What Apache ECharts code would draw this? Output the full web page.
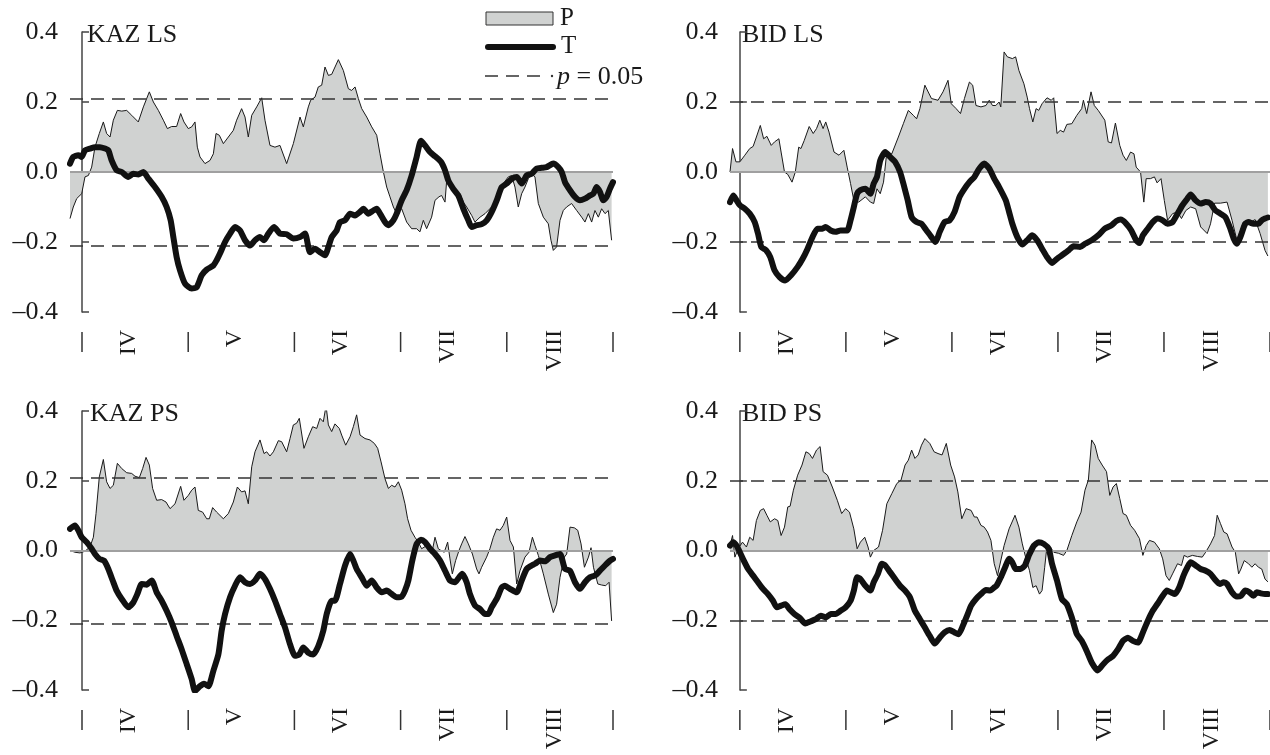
<!DOCTYPE html>
<html>
<head>
<meta charset="utf-8">
<script src="https://cdn.jsdelivr.net/npm/echarts@6/dist/echarts.min.js"></script>
<style>
html,body{margin:0;padding:0;background:#fff;}
#chart{width:1270px;height:755px;}
</style>
</head>
<body>
<div id="chart"></div>
<script>
// x in month units: 0 = 1 April, 1 = 1 May, ... 5 = 1 September
const monthNames = ['IV', 'V', 'VI', 'VII', 'VIII'];
const monthBounds = [0, 1, 2, 3, 4, 5];
const monthLabelPos = [0.44, 1.44, 2.44, 3.44, 4.45];
const panelTitles = ['KAZ LS', 'BID LS', 'KAZ PS', 'BID PS'];
const sigLevels = [0.215, 0.2, 0.215, 0.2];

const kazLS_P = [[-0.113,-0.133],[-0.082,-0.100],[-0.050,-0.076],[-0.003,-0.062],[0.028,-0.014],[0.060,-0.010],[0.091,0.014],[0.122,0.071],[0.163,0.110],[0.201,0.143],[0.232,0.110],[0.264,0.100],[0.295,0.148],[0.333,0.176],[0.374,0.174],[0.421,0.176],[0.468,0.162],[0.530,0.143],[0.578,0.186],[0.634,0.229],[0.672,0.200],[0.719,0.176],[0.766,0.148],[0.804,0.124],[0.844,0.130],[0.891,0.130],[0.929,0.167],[0.960,0.143],[1.001,0.124],[1.033,0.129],[1.064,0.143],[1.086,0.071],[1.111,0.043],[1.158,0.024],[1.205,0.033],[1.237,0.052],[1.262,0.110],[1.293,0.105],[1.331,0.081],[1.378,0.100],[1.425,0.119],[1.456,0.148],[1.503,0.181],[1.535,0.157],[1.566,0.100],[1.598,0.162],[1.645,0.186],[1.692,0.212],[1.723,0.148],[1.770,0.076],[1.817,0.071],[1.864,0.076],[1.927,0.024],[1.990,0.081],[2.053,0.157],[2.084,0.129],[2.131,0.186],[2.153,0.205],[2.194,0.214],[2.225,0.243],[2.257,0.248],[2.288,0.300],[2.320,0.276],[2.351,0.279],[2.414,0.321],[2.461,0.290],[2.508,0.238],[2.539,0.233],[2.571,0.243],[2.602,0.210],[2.634,0.181],[2.681,0.157],[2.728,0.129],[2.775,0.105],[2.806,0.052],[2.838,0.000],[2.869,-0.043],[2.900,-0.071],[2.932,-0.100],[2.963,-0.119],[3.010,-0.105],[3.057,-0.143],[3.104,-0.162],[3.151,-0.162],[3.182,-0.171],[3.214,-0.138],[3.245,-0.162],[3.292,-0.129],[3.324,-0.081],[3.361,-0.071],[3.386,-0.067],[3.418,-0.086],[3.434,-0.024],[3.481,-0.043],[3.528,-0.071],[3.559,-0.062],[3.591,-0.086],[3.622,-0.100],[3.669,-0.124],[3.700,-0.143],[3.748,-0.129],[3.795,-0.119],[3.857,-0.100],[3.920,-0.071],[3.967,-0.033],[4.014,-0.014],[4.045,-0.010],[4.077,-0.043],[4.108,-0.100],[4.140,-0.062],[4.171,-0.043],[4.203,-0.019],[4.234,-0.005],[4.265,-0.014],[4.297,-0.090],[4.344,-0.129],[4.391,-0.148],[4.416,-0.195],[4.438,-0.224],[4.469,-0.214],[4.501,-0.138],[4.532,-0.110],[4.563,-0.100],[4.610,-0.090],[4.658,-0.110],[4.705,-0.129],[4.736,-0.143],[4.768,-0.119],[4.799,-0.143],[4.830,-0.110],[4.862,-0.129],[4.893,-0.105],[4.925,-0.119],[4.956,-0.110],[4.987,-0.195]];

const kazLS_T = [[-0.113,0.024],[-0.082,0.043],[-0.035,0.048],[-0.003,0.043],[0.028,0.062],[0.075,0.067],[0.122,0.071],[0.169,0.071],[0.217,0.067],[0.248,0.062],[0.279,0.033],[0.326,0.005],[0.374,0.000],[0.436,-0.014],[0.483,-0.005],[0.530,-0.007],[0.578,0.000],[0.625,-0.019],[0.687,-0.043],[0.750,-0.071],[0.797,-0.100],[0.835,-0.138],[0.860,-0.186],[0.891,-0.243],[0.923,-0.281],[0.970,-0.319],[1.033,-0.333],[1.080,-0.329],[1.127,-0.295],[1.174,-0.279],[1.237,-0.267],[1.268,-0.252],[1.299,-0.233],[1.347,-0.200],[1.394,-0.176],[1.441,-0.157],[1.488,-0.167],[1.535,-0.195],[1.582,-0.210],[1.629,-0.195],[1.676,-0.186],[1.714,-0.195],[1.755,-0.176],[1.808,-0.157],[1.864,-0.176],[1.927,-0.178],[1.990,-0.190],[2.053,-0.186],[2.100,-0.176],[2.147,-0.229],[2.194,-0.219],[2.241,-0.229],[2.288,-0.238],[2.320,-0.214],[2.351,-0.186],[2.398,-0.167],[2.429,-0.143],[2.477,-0.138],[2.524,-0.119],[2.571,-0.124],[2.618,-0.114],[2.649,-0.105],[2.696,-0.119],[2.743,-0.110],[2.775,-0.105],[2.806,-0.119],[2.853,-0.143],[2.885,-0.152],[2.932,-0.138],[2.963,-0.119],[3.010,-0.081],[3.057,-0.052],[3.104,-0.010],[3.151,0.043],[3.192,0.089],[3.230,0.076],[3.277,0.057],[3.324,0.045],[3.380,0.029],[3.418,0.005],[3.449,-0.024],[3.496,-0.048],[3.543,-0.067],[3.591,-0.105],[3.638,-0.138],[3.669,-0.157],[3.716,-0.152],[3.764,-0.149],[3.811,-0.138],[3.858,-0.114],[3.905,-0.081],[3.952,-0.043],[4.000,-0.033],[4.047,-0.019],[4.094,-0.014],[4.140,-0.033],[4.187,-0.010],[4.234,-0.005],[4.281,0.010],[4.328,0.012],[4.375,0.014],[4.438,0.024],[4.485,0.014],[4.517,0.000],[4.548,-0.029],[4.595,-0.052],[4.642,-0.071],[4.689,-0.081],[4.736,-0.076],[4.783,-0.067],[4.815,-0.062],[4.846,-0.043],[4.877,-0.057],[4.909,-0.081],[4.940,-0.071],[4.971,-0.048],[5.000,-0.029]];

const bidLS_P = [[-0.093,0.000],[-0.069,0.067],[-0.037,0.029],[0.000,0.029],[0.047,0.048],[0.093,0.067],[0.125,0.073],[0.156,0.100],[0.193,0.133],[0.224,0.095],[0.255,0.102],[0.296,0.076],[0.327,0.086],[0.368,0.095],[0.389,0.057],[0.421,0.000],[0.452,-0.007],[0.492,-0.029],[0.523,0.000],[0.555,0.071],[0.576,0.067],[0.607,0.090],[0.654,0.130],[0.692,0.110],[0.723,0.124],[0.754,0.148],[0.785,0.124],[0.810,0.143],[0.841,0.114],[0.888,0.057],[0.935,0.048],[0.981,0.062],[1.012,0.014],[1.044,-0.033],[1.075,-0.081],[1.121,-0.086],[1.184,-0.071],[1.231,-0.086],[1.262,-0.090],[1.293,-0.048],[1.324,-0.062],[1.355,-0.029],[1.386,0.057],[1.433,0.052],[1.495,0.100],[1.542,0.138],[1.589,0.176],[1.636,0.162],[1.667,0.152],[1.698,0.181],[1.745,0.248],[1.807,0.210],[1.869,0.205],[1.916,0.229],[1.963,0.262],[1.994,0.195],[2.040,0.181],[2.081,0.167],[2.118,0.210],[2.165,0.257],[2.196,0.248],[2.227,0.190],[2.274,0.186],[2.321,0.190],[2.352,0.205],[2.383,0.190],[2.414,0.190],[2.445,0.200],[2.461,0.186],[2.492,0.343],[2.523,0.329],[2.570,0.324],[2.601,0.329],[2.632,0.290],[2.679,0.252],[2.710,0.214],[2.732,0.181],[2.763,0.143],[2.794,0.181],[2.819,0.176],[2.850,0.195],[2.897,0.212],[2.937,0.205],[2.960,0.212],[2.991,0.110],[3.022,0.119],[3.053,0.114],[3.084,0.136],[3.131,0.138],[3.178,0.162],[3.224,0.181],[3.240,0.205],[3.271,0.167],[3.312,0.229],[3.343,0.190],[3.380,0.176],[3.442,0.148],[3.474,0.086],[3.505,0.083],[3.542,0.140],[3.583,0.076],[3.614,0.048],[3.645,0.033],[3.685,0.057],[3.717,0.052],[3.738,0.014],[3.779,0.000],[3.810,-0.086],[3.832,-0.019],[3.872,-0.019],[3.910,-0.014],[3.935,-0.031],[3.972,-0.019],[4.003,-0.081],[4.034,-0.138],[4.081,-0.119],[4.128,-0.114],[4.165,-0.133],[4.206,-0.110],[4.252,-0.100],[4.299,-0.105],[4.346,-0.157],[4.408,-0.176],[4.439,-0.148],[4.477,-0.089],[4.533,-0.089],[4.595,-0.086],[4.642,-0.138],[4.688,-0.195],[4.751,-0.143],[4.813,-0.143],[4.860,-0.136],[4.907,-0.176],[4.953,-0.224],[4.980,-0.240]];

const bidLS_T = [[-0.093,-0.086],[-0.062,-0.067],[-0.031,-0.081],[0.000,-0.095],[0.047,-0.105],[0.093,-0.119],[0.140,-0.143],[0.171,-0.176],[0.202,-0.214],[0.249,-0.224],[0.287,-0.243],[0.327,-0.281],[0.374,-0.300],[0.427,-0.310],[0.483,-0.295],[0.545,-0.271],[0.592,-0.248],[0.639,-0.219],[0.685,-0.186],[0.732,-0.162],[0.779,-0.162],[0.810,-0.157],[0.857,-0.167],[0.903,-0.171],[0.950,-0.167],[1.012,-0.167],[1.044,-0.138],[1.075,-0.100],[1.106,-0.062],[1.137,-0.052],[1.184,-0.048],[1.231,-0.062],[1.262,-0.033],[1.293,-0.014],[1.324,0.033],[1.371,0.057],[1.417,0.043],[1.464,0.029],[1.511,0.000],[1.542,-0.033],[1.583,-0.081],[1.620,-0.129],[1.667,-0.143],[1.713,-0.148],[1.760,-0.167],[1.807,-0.186],[1.844,-0.200],[1.885,-0.171],[1.931,-0.143],[1.978,-0.138],[2.025,-0.114],[2.072,-0.071],[2.118,-0.048],[2.165,-0.029],[2.212,-0.014],[2.259,0.010],[2.305,0.024],[2.352,0.010],[2.399,-0.019],[2.445,-0.043],[2.508,-0.081],[2.539,-0.114],[2.570,-0.148],[2.617,-0.186],[2.664,-0.207],[2.710,-0.195],[2.757,-0.181],[2.804,-0.195],[2.850,-0.219],[2.897,-0.243],[2.944,-0.260],[2.991,-0.248],[3.037,-0.238],[3.100,-0.224],[3.146,-0.212],[3.209,-0.214],[3.255,-0.205],[3.318,-0.195],[3.380,-0.181],[3.442,-0.162],[3.505,-0.152],[3.551,-0.140],[3.592,-0.136],[3.645,-0.148],[3.692,-0.167],[3.738,-0.195],[3.769,-0.203],[3.801,-0.181],[3.847,-0.162],[3.894,-0.143],[3.941,-0.133],[3.988,-0.138],[4.034,-0.148],[4.081,-0.143],[4.128,-0.119],[4.174,-0.095],[4.221,-0.076],[4.252,-0.064],[4.299,-0.081],[4.346,-0.090],[4.393,-0.086],[4.439,-0.090],[4.486,-0.110],[4.533,-0.119],[4.579,-0.129],[4.626,-0.162],[4.657,-0.190],[4.688,-0.205],[4.720,-0.186],[4.766,-0.148],[4.798,-0.143],[4.844,-0.148],[4.891,-0.148],[4.922,-0.138],[4.953,-0.133],[4.980,-0.130]];

const kazPS_P = [[-0.113,0.000],[-0.066,-0.005],[-0.019,-0.007],[0.028,-0.002],[0.075,0.010],[0.107,0.038],[0.132,0.106],[0.163,0.211],[0.201,0.261],[0.232,0.197],[0.264,0.178],[0.295,0.187],[0.333,0.250],[0.374,0.235],[0.421,0.223],[0.468,0.221],[0.499,0.213],[0.540,0.209],[0.571,0.235],[0.603,0.267],[0.634,0.245],[0.665,0.178],[0.703,0.144],[0.750,0.146],[0.791,0.139],[0.829,0.120],[0.876,0.134],[0.929,0.184],[0.960,0.144],[1.001,0.158],[1.033,0.173],[1.064,0.182],[1.095,0.115],[1.136,0.110],[1.174,0.091],[1.199,0.091],[1.230,0.123],[1.268,0.110],[1.331,0.091],[1.378,0.106],[1.425,0.139],[1.463,0.182],[1.503,0.168],[1.535,0.171],[1.566,0.134],[1.598,0.240],[1.629,0.283],[1.676,0.317],[1.714,0.278],[1.739,0.283],[1.770,0.271],[1.802,0.283],[1.849,0.315],[1.880,0.312],[1.927,0.283],[1.959,0.321],[1.990,0.360],[2.021,0.365],[2.046,0.379],[2.090,0.293],[2.131,0.326],[2.172,0.355],[2.210,0.350],[2.241,0.379],[2.272,0.369],[2.298,0.415],[2.320,0.360],[2.351,0.341],[2.382,0.363],[2.423,0.350],[2.445,0.331],[2.483,0.302],[2.524,0.326],[2.555,0.355],[2.586,0.389],[2.618,0.331],[2.665,0.321],[2.712,0.317],[2.753,0.307],[2.784,0.293],[2.816,0.254],[2.853,0.206],[2.885,0.178],[2.916,0.187],[2.947,0.182],[2.979,0.197],[3.010,0.173],[3.041,0.134],[3.066,0.091],[3.098,0.058],[3.135,0.038],[3.167,0.024],[3.198,0.005],[3.245,0.014],[3.292,-0.010],[3.324,0.038],[3.355,0.005],[3.380,0.000],[3.411,-0.005],[3.443,0.024],[3.465,-0.024],[3.487,-0.067],[3.518,-0.029],[3.550,0.000],[3.575,0.019],[3.606,0.040],[3.638,0.019],[3.676,-0.010],[3.716,-0.053],[3.738,-0.067],[3.763,-0.048],[3.810,-0.019],[3.841,0.005],[3.873,0.038],[3.904,0.062],[3.936,0.058],[3.967,0.072],[3.999,0.096],[4.030,0.029],[4.062,0.010],[4.093,-0.096],[4.124,-0.058],[4.171,-0.019],[4.209,-0.005],[4.241,0.038],[4.266,0.014],[4.297,-0.014],[4.344,-0.067],[4.391,-0.125],[4.438,-0.178],[4.469,-0.154],[4.501,-0.077],[4.542,-0.019],[4.564,-0.010],[4.595,0.067],[4.636,0.065],[4.668,0.058],[4.699,0.019],[4.731,-0.048],[4.769,-0.019],[4.793,0.008],[4.816,-0.048],[4.857,-0.096],[4.893,-0.099],[4.931,-0.101],[4.963,-0.091],[4.987,-0.202]];

const kazPS_T = [[-0.113,0.062],[-0.066,0.072],[-0.035,0.058],[-0.003,0.038],[0.044,0.024],[0.091,0.005],[0.122,-0.010],[0.163,-0.024],[0.207,-0.029],[0.248,-0.053],[0.289,-0.086],[0.326,-0.115],[0.374,-0.139],[0.436,-0.163],[0.483,-0.149],[0.521,-0.125],[0.562,-0.096],[0.609,-0.098],[0.656,-0.086],[0.703,-0.120],[0.750,-0.144],[0.797,-0.173],[0.844,-0.206],[0.891,-0.245],[0.938,-0.283],[0.986,-0.326],[1.033,-0.369],[1.064,-0.403],[1.111,-0.389],[1.149,-0.382],[1.190,-0.389],[1.237,-0.345],[1.284,-0.298],[1.315,-0.230],[1.347,-0.182],[1.394,-0.134],[1.441,-0.101],[1.488,-0.077],[1.535,-0.091],[1.582,-0.096],[1.629,-0.086],[1.676,-0.067],[1.723,-0.082],[1.770,-0.110],[1.817,-0.144],[1.864,-0.182],[1.912,-0.221],[1.959,-0.269],[2.006,-0.302],[2.046,-0.298],[2.084,-0.278],[2.131,-0.293],[2.178,-0.298],[2.225,-0.274],[2.272,-0.230],[2.304,-0.182],[2.351,-0.144],[2.382,-0.144],[2.429,-0.096],[2.477,-0.043],[2.524,-0.010],[2.555,-0.029],[2.586,-0.053],[2.634,-0.077],[2.681,-0.101],[2.728,-0.086],[2.775,-0.106],[2.822,-0.120],[2.869,-0.115],[2.916,-0.125],[2.963,-0.134],[3.010,-0.132],[3.041,-0.115],[3.073,-0.086],[3.110,-0.029],[3.151,0.019],[3.192,0.031],[3.230,0.024],[3.277,0.005],[3.324,-0.010],[3.371,-0.029],[3.418,-0.058],[3.465,-0.086],[3.512,-0.091],[3.550,-0.077],[3.581,-0.067],[3.622,-0.091],[3.653,-0.125],[3.701,-0.158],[3.748,-0.168],[3.795,-0.182],[3.826,-0.182],[3.857,-0.163],[3.905,-0.139],[3.952,-0.106],[3.983,-0.101],[4.030,-0.110],[4.093,-0.120],[4.140,-0.086],[4.187,-0.053],[4.234,-0.043],[4.266,-0.038],[4.313,-0.029],[4.360,-0.031],[4.407,-0.019],[4.454,-0.014],[4.501,-0.010],[4.548,-0.053],[4.595,-0.058],[4.642,-0.091],[4.689,-0.110],[4.736,-0.091],[4.783,-0.077],[4.830,-0.072],[4.877,-0.058],[4.924,-0.043],[4.972,-0.029],[5.000,-0.024]];

const bidPS_P = [[-0.093,0.014],[-0.069,0.043],[-0.047,-0.019],[-0.016,0.005],[0.025,0.024],[0.062,0.010],[0.093,0.038],[0.125,0.029],[0.156,0.086],[0.193,0.115],[0.224,0.120],[0.255,0.101],[0.287,0.082],[0.327,0.091],[0.358,0.086],[0.389,0.043],[0.421,0.067],[0.452,0.125],[0.474,0.127],[0.505,0.173],[0.545,0.216],[0.586,0.245],[0.623,0.283],[0.654,0.278],[0.685,0.264],[0.723,0.288],[0.757,0.298],[0.785,0.226],[0.826,0.216],[0.872,0.182],[0.919,0.144],[0.960,0.106],[0.997,0.120],[1.034,0.110],[1.075,0.062],[1.106,0.005],[1.137,0.024],[1.178,0.038],[1.209,0.010],[1.231,-0.019],[1.262,0.000],[1.308,0.010],[1.346,0.058],[1.386,0.134],[1.433,0.163],[1.480,0.192],[1.520,0.202],[1.558,0.245],[1.589,0.259],[1.620,0.288],[1.651,0.264],[1.682,0.274],[1.713,0.302],[1.745,0.321],[1.791,0.307],[1.832,0.283],[1.869,0.278],[1.907,0.274],[1.947,0.307],[1.988,0.245],[2.025,0.211],[2.056,0.168],[2.093,0.091],[2.134,0.120],[2.181,0.115],[2.212,0.096],[2.237,0.096],[2.274,0.072],[2.305,0.067],[2.336,0.053],[2.368,0.029],[2.399,-0.038],[2.430,-0.072],[2.492,0.014],[2.539,0.062],[2.595,0.101],[2.632,0.067],[2.664,0.019],[2.695,-0.019],[2.732,-0.058],[2.763,-0.106],[2.794,-0.101],[2.826,-0.125],[2.850,-0.115],[2.875,-0.048],[2.897,0.014],[2.928,0.010],[2.960,-0.005],[3.006,-0.008],[3.053,-0.014],[3.084,0.000],[3.131,0.043],[3.178,0.082],[3.218,0.110],[3.255,0.173],[3.287,0.202],[3.318,0.317],[3.349,0.302],[3.380,0.264],[3.417,0.245],[3.458,0.226],[3.489,0.158],[3.520,0.182],[3.551,0.192],[3.583,0.149],[3.614,0.106],[3.645,0.101],[3.685,0.072],[3.723,0.058],[3.769,0.034],[3.801,-0.014],[3.832,0.014],[3.863,0.029],[3.910,0.024],[3.956,0.005],[3.988,-0.024],[4.019,-0.072],[4.050,-0.086],[4.081,-0.067],[4.128,-0.038],[4.165,-0.043],[4.190,-0.014],[4.221,-0.019],[4.268,-0.014],[4.315,-0.017],[4.361,-0.019],[4.393,-0.005],[4.439,0.019],[4.477,0.043],[4.502,0.101],[4.533,0.077],[4.564,0.053],[4.595,0.048],[4.642,0.010],[4.673,-0.005],[4.704,-0.067],[4.726,-0.053],[4.757,-0.029],[4.798,-0.038],[4.829,-0.048],[4.860,-0.038],[4.891,-0.048],[4.922,-0.053],[4.953,-0.082],[4.980,-0.090]];

const bidPS_T = [[-0.093,0.014],[-0.062,0.024],[-0.031,0.014],[0.000,-0.005],[0.037,-0.029],[0.078,-0.053],[0.125,-0.072],[0.171,-0.091],[0.218,-0.110],[0.265,-0.125],[0.312,-0.144],[0.349,-0.163],[0.389,-0.158],[0.430,-0.154],[0.467,-0.168],[0.514,-0.182],[0.561,-0.192],[0.617,-0.209],[0.670,-0.203],[0.717,-0.197],[0.763,-0.187],[0.810,-0.192],[0.857,-0.182],[0.903,-0.182],[0.950,-0.173],[0.997,-0.163],[1.044,-0.144],[1.075,-0.115],[1.106,-0.077],[1.137,-0.082],[1.184,-0.101],[1.231,-0.115],[1.262,-0.091],[1.302,-0.067],[1.340,-0.038],[1.371,-0.043],[1.417,-0.062],[1.464,-0.082],[1.511,-0.101],[1.558,-0.115],[1.604,-0.134],[1.651,-0.173],[1.698,-0.197],[1.745,-0.221],[1.791,-0.245],[1.838,-0.267],[1.885,-0.250],[1.931,-0.235],[1.978,-0.228],[2.025,-0.235],[2.062,-0.240],[2.103,-0.216],[2.143,-0.187],[2.181,-0.158],[2.227,-0.139],[2.274,-0.125],[2.321,-0.113],[2.361,-0.115],[2.399,-0.106],[2.421,-0.101],[2.461,-0.077],[2.502,-0.048],[2.539,-0.024],[2.570,-0.034],[2.601,-0.053],[2.648,-0.053],[2.688,-0.043],[2.726,-0.014],[2.773,0.014],[2.819,0.024],[2.866,0.019],[2.913,0.005],[2.944,-0.038],[2.991,-0.086],[3.037,-0.139],[3.084,-0.154],[3.131,-0.192],[3.178,-0.240],[3.224,-0.259],[3.271,-0.288],[3.318,-0.321],[3.374,-0.344],[3.427,-0.326],[3.474,-0.312],[3.520,-0.302],[3.567,-0.283],[3.614,-0.259],[3.660,-0.250],[3.707,-0.259],[3.754,-0.264],[3.801,-0.235],[3.847,-0.202],[3.894,-0.173],[3.941,-0.152],[3.988,-0.130],[4.028,-0.115],[4.065,-0.120],[4.103,-0.125],[4.143,-0.106],[4.184,-0.072],[4.221,-0.048],[4.252,-0.034],[4.299,-0.043],[4.346,-0.053],[4.393,-0.058],[4.439,-0.067],[4.477,-0.082],[4.526,-0.096],[4.564,-0.091],[4.595,-0.096],[4.642,-0.120],[4.688,-0.132],[4.726,-0.130],[4.766,-0.115],[4.807,-0.120],[4.844,-0.130],[4.875,-0.120],[4.913,-0.123],[4.953,-0.125],[4.980,-0.125]];

const panelP = [kazLS_P, bidLS_P, kazPS_P, bidPS_P];
const panelT = [kazLS_T, bidLS_T, kazPS_T, bidPS_T];

// layout
const SERIF = "'Liberation Serif','Times New Roman',serif";
const grids = [
  {left: 70, top: 32, width: 543, height: 280},
  {left: 730, top: 32, width: 545, height: 280},
  {left: 70, top: 411, width: 543, height: 279},
  {left: 730, top: 411, width: 545, height: 279}
];
const xMins = [-0.113, -0.093, -0.113, -0.093];
const titlePos = [[87, 35], [742, 35], [90, 414], [742, 414]];

const fmtY = v => (v < 0 ? '\u2013' : '') + Math.abs(v).toFixed(1);

const xAxes = [], yAxes = [], series = [], graphics = [];
for (let i = 0; i < 4; i++) {
  xAxes.push({
    type: 'value', gridIndex: i, min: xMins[i], max: 5,
    position: 'bottom', offset: 18,
    axisLine: {show: false},
    splitLine: {show: false},
    axisTick: {show: false},
    axisLabel: {show: true, customValues: monthLabelPos, rotate: 90, margin: 0,
      fontFamily: SERIF, fontSize: 24, color: '#1a1a1a',
      formatter: v => { const k = Math.floor(v); return monthNames[k] || ''; }}
  });
  yAxes.push({
    type: 'value', gridIndex: i, min: -0.4, max: 0.4, interval: 0.2,
    axisLine: {show: true, lineStyle: {color: '#444', width: 1.5}},
    axisTick: {show: true, inside: true, length: 7, lineStyle: {color: '#444', width: 1.5}},
    splitLine: {show: false},
    axisLabel: {margin: 12, fontFamily: SERIF, fontSize: 26, color: '#1a1a1a', formatter: fmtY}
  });
  const s = sigLevels[i];
  series.push({
    name: 'P', type: 'line', xAxisIndex: i, yAxisIndex: i, z: 2,
    data: panelP[i], showSymbol: false, symbol: 'none',
    lineStyle: {color: '#1a1a1a', width: 1},
    areaStyle: {color: '#d0d2d1', opacity: 1, origin: 0},
    animation: false,
    markLine: {
      silent: true, symbol: ['none', 'none'], z: 5, animation: false,
      label: {show: false},
      data: [
        {yAxis: 0, lineStyle: {color: '#a0a0a0', width: 2, type: 'solid'}},
        {yAxis: s, lineStyle: {color: '#333', width: 1.5, type: [13, 8]}},
        {yAxis: -s, lineStyle: {color: '#333', width: 1.5, type: [13, 8]}}
      ]
    }
  });
  series.push({
    name: 'T', type: 'line', xAxisIndex: i, yAxisIndex: i, z: 10,
    data: panelT[i], showSymbol: false, symbol: 'none', smooth: 0.2,
    lineStyle: {color: '#111', width: 6, cap: 'round', join: 'round'},
    animation: false
  });
  // month boundary ticks below the plot
  series.push({
    name: 'months', type: 'custom', xAxisIndex: i, yAxisIndex: i, z: 3,
    silent: true, clip: false, animation: false,
    data: monthBounds.map(b => [b, -0.4]),
    renderItem: (params, api) => {
      const p = api.coord([api.value(0), api.value(1)]);
      return {type: 'line', shape: {x1: p[0], y1: p[1] + 20, x2: p[0], y2: p[1] + 40},
        style: {stroke: '#333', lineWidth: 1.5}};
    }
  });
  graphics.push({
    type: 'text', x: titlePos[i][0], y: titlePos[i][1],
    style: {text: panelTitles[i], font: '26px ' + SERIF, fill: '#1a1a1a', textVerticalAlign: 'middle'}
  });
}

// legend (drawn in the top-left panel corner)
graphics.push(
  {type: 'rect', shape: {x: 486, y: 12, width: 67, height: 13},
   style: {fill: '#d0d2d1', stroke: '#333', lineWidth: 1}},
  {type: 'text', x: 560, y: 18, style: {text: 'P', font: '25px ' + SERIF, fill: '#1a1a1a', textVerticalAlign: 'middle'}},
  {type: 'line', shape: {x1: 488, y1: 47, x2: 553, y2: 47},
   style: {stroke: '#111', lineWidth: 6, lineCap: 'round'}},
  {type: 'text', x: 561, y: 46, style: {text: 'T', font: '25px ' + SERIF, fill: '#1a1a1a', textVerticalAlign: 'middle'}},
  {type: 'line', shape: {x1: 485, y1: 76, x2: 546, y2: 76},
   style: {stroke: '#333', lineWidth: 1.5, lineDash: [13, 8]}},
  {type: 'circle', shape: {cx: 552, cy: 76, r: 1.2}, style: {fill: '#333'}},
  {type: 'text', x: 557, y: 77, style: {
    text: '{i|p} = 0.05', font: '26px ' + SERIF, fill: '#1a1a1a', textVerticalAlign: 'middle',
    rich: {i: {fontStyle: 'italic', fontFamily: SERIF, fontSize: 26, fill: '#1a1a1a'}}}}
);

const chart = echarts.init(document.getElementById('chart'), null, {renderer: 'canvas'});
chart.setOption({
  backgroundColor: '#fff',
  animation: false,
  grid: grids,
  xAxis: xAxes,
  yAxis: yAxes,
  series: series,
  graphic: graphics
});
</script>
</body>
</html>
